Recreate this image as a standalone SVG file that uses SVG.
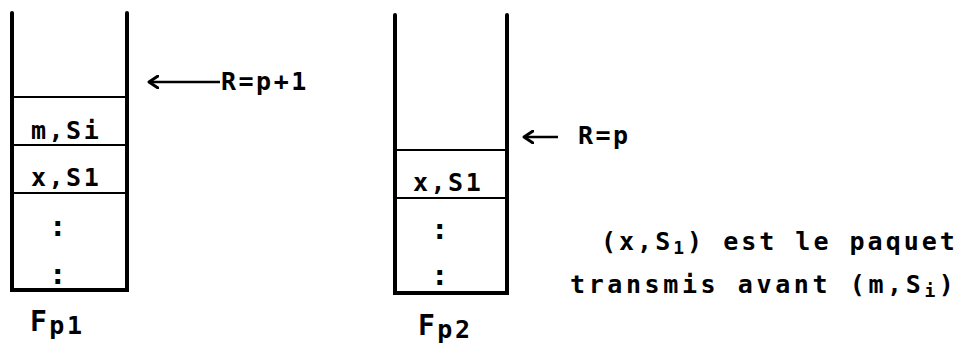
<svg xmlns="http://www.w3.org/2000/svg" width="971" height="348" viewBox="0 0 971 348">
  <style>
    .wall { stroke: #000; stroke-width: 4; fill: none; stroke-linecap: round; }
    .row { stroke: #000; stroke-width: 2; fill: none; }
    .conn { stroke: #000; stroke-width: 2.5; fill: none; }
    .t { font-family: "DejaVu Sans Mono", "Liberation Mono", monospace; font-weight: bold; font-size: 25px; fill: #000; letter-spacing: 2.5px; }
    .sub { font-size: 18px; }
    .big { font-size: 28px; }
    .dots { font-size: 29px; }
  </style>
  <defs>
    <marker id="head" markerWidth="12" markerHeight="14" refX="10" refY="7" orient="auto" markerUnits="userSpaceOnUse">
      <path d="M1,1 L10,7 L1,13" fill="none" stroke="#000" stroke-width="3" stroke-linejoin="round" stroke-linecap="round"/>
    </marker>
  </defs>

  <!-- Queue Fp1 -->
  <g id="fp1">
    <path class="wall" d="M12,13 V290 H127 V13"/>
    <line class="row" x1="12" y1="97" x2="127" y2="97"/>
    <line class="row" x1="12" y1="145" x2="127" y2="145"/>
    <line class="row" x1="12" y1="193" x2="127" y2="193"/>
    <text class="t" x="31" y="139">m,Si</text>
    <text class="t" x="31" y="186">x,S1</text>
    <text class="t dots" x="49" y="236">:</text>
    <text class="t dots" x="49" y="284">:</text>
    <text class="t" x="30" y="331"><tspan class="big">F</tspan><tspan dy="3">p1</tspan></text>
  </g>

  <!-- Queue Fp2 -->
  <g id="fp2">
    <path class="wall" d="M395,15 V293 H507 V15"/>
    <line class="row" x1="395" y1="150" x2="507" y2="150"/>
    <line class="row" x1="395" y1="198" x2="507" y2="198"/>
    <text class="t" x="413" y="191">x,S1</text>
    <text class="t dots" x="431" y="239">:</text>
    <text class="t dots" x="431" y="285">:</text>
    <text class="t" x="418" y="335"><tspan class="big">F</tspan><tspan dy="3">p2</tspan></text>
  </g>

  <!-- Pointer labels -->
  <g id="label-r1">
    <text class="t" x="221" y="90">R=p+1</text>
  </g>
  <g id="label-r2">
    <text class="t" x="578" y="144">R=p</text>
  </g>

  <!-- Note -->
  <g id="note">
    <text class="t" x="601" y="250" style="letter-spacing:3px">(x,S<tspan class="sub" dy="4">1</tspan><tspan dy="-4">) est le paquet</tspan></text>
    <text class="t" x="570" y="293" style="letter-spacing:3.6px">transmis avant (m,S<tspan class="sub" dy="4">i</tspan><tspan dy="-4">)</tspan></text>
  </g>

  <!-- Connectors -->
  <g id="connectors">
    <line class="conn" x1="220" y1="82" x2="149" y2="82" marker-end="url(#head)"/>
    <line class="conn" x1="558" y1="137" x2="524" y2="137" marker-end="url(#head)"/>
  </g>
</svg>
